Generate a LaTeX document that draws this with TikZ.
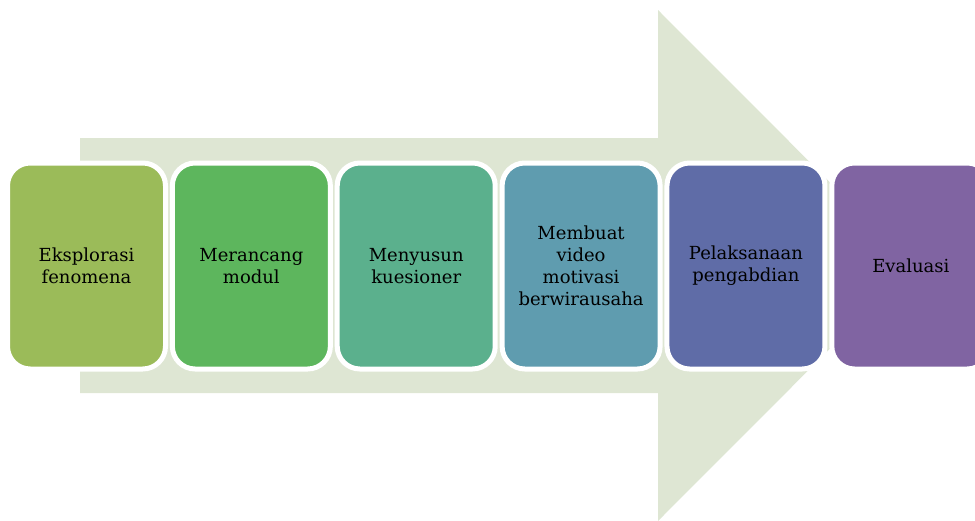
\documentclass[tikz,border=0pt]{standalone}
\usepackage{fontspec}
\usepackage{tikz}
\usetikzlibrary{positioning}
\newfontfamily\stagefont{DejaVu Serif}
\tikzset{every picture/.style={line width=0.75pt}}

\begin{document}
\begin{tikzpicture}[x=0.75pt,y=0.75pt,yscale=-1,xscale=1,
  stage/.style={draw={rgb, 255:red, 255; green, 255; blue, 255 }, line width=3.75pt, rounded corners=17pt, minimum width=118.5pt, minimum height=154.5pt, align=center, inner sep=0pt, font=\stagefont\fontsize{13.5}{16.5}\selectfont, text={rgb, 255:red, 0; green, 0; blue, 0 }}]
%set diagram left start at 0, and has height of 521
\clip (0,0) rectangle (975,521);

%Shape: Right Arrow [id:dp40713]
\draw  [draw opacity=0][fill={rgb, 255:red, 222; green, 230; blue, 211 }  ] (80,138) -- (658,138) -- (658,10) -- (913,265.5) -- (658,521) -- (658,393) -- (80,393) -- cycle ;

% Text Node
\node [stage, fill={rgb, 255:red, 155; green, 187; blue, 89 }] (explore) at (86.5,266) {Eksplorasi\\fenomena};
% Text Node
\node [stage, fill={rgb, 255:red, 93; green, 182; blue, 93 }, right=1.4pt of explore] (design) {Merancang\\modul};
% Text Node
\node [stage, fill={rgb, 255:red, 91; green, 176; blue, 141 }, right=1.4pt of design] (survey) {Menyusun\\kuesioner};
% Text Node
\node [stage, fill={rgb, 255:red, 95; green, 156; blue, 175 }, right=1.4pt of survey] (video) {Membuat\\video\\motivasi\\berwirausaha};
% Text Node
\node [stage, fill={rgb, 255:red, 95; green, 108; blue, 167 }, right=1.4pt of video] (service) {Pelaksanaan\\pengabdian};
% Text Node
\node [stage, fill={rgb, 255:red, 128; green, 100; blue, 162 }, right=1.4pt of service] (review) {Evaluasi};

\end{tikzpicture}
\end{document}
